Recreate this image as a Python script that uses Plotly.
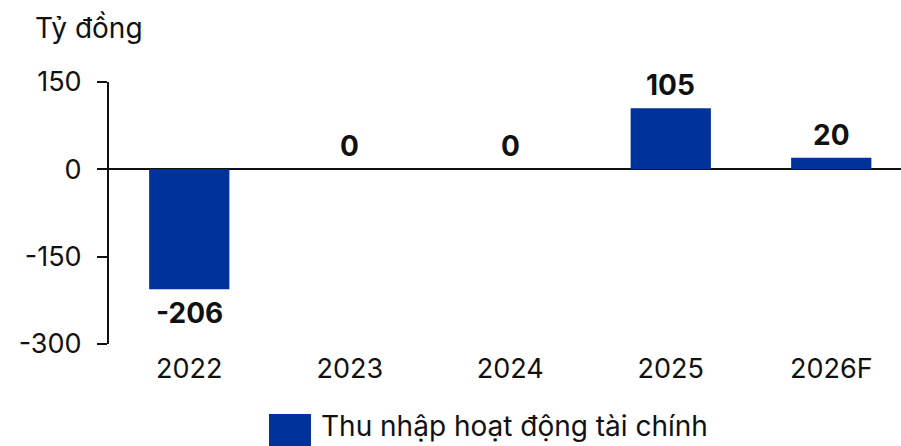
import plotly.graph_objects as go

categories = ["2022", "2023", "2024", "2025", "2026F"]
values = [-206, 0, 0, 105, 20]
label_texts = ["-206", "0", "0", "105", "20"]
y_ticks = [150, 0, -150, -300]
y_tick_labels = ["150", "0", "-150", "-300"]
series_name = "Thu nhập hoạt động tài chính"
unit_label = "Tỷ đồng"

BAR_COLOR = "#00339A"
FONT = "Inter"
TXT = "#111111"
W, H = 901, 446
L, R, T, B = 109, 0, 82, 102
PW, PH = W - L - R, H - T - B


def px_x(x):
    return (x - L) / PW


def px_y(y):
    return (H - B - y) / PH


fig = go.Figure()
fig.add_trace(go.Bar(
    x=list(range(len(categories))), y=values, marker_color=BAR_COLOR, width=0.5,
    marker_line_width=0, showlegend=False, name=series_name,
))

for i, (v, t) in enumerate(zip(values, label_texts)):
    fig.add_annotation(
        x=i, y=v, text=f"<b>{t}</b>", showarrow=False,
        yanchor="top" if v < 0 else "bottom",
        yshift=-5 if v < 0 else 4,
        font=dict(family=FONT, size=28, color=TXT),
    )

# Unit title
fig.add_annotation(
    xref="paper", yref="paper", x=px_x(33), y=px_y(28), text=unit_label,
    showarrow=False, xanchor="left", yanchor="middle",
    font=dict(family=FONT, size=28, color=TXT),
)

# Legend (manual, large swatch)
fig.add_shape(
    type="rect", xref="paper", yref="paper",
    x0=px_x(269), x1=px_x(311), y0=px_y(414), y1=px_y(447),
    fillcolor=BAR_COLOR, line_width=0, layer="above",
)
fig.add_annotation(
    xref="paper", yref="paper", x=px_x(319), y=px_y(426), text=series_name,
    showarrow=False, xanchor="left", yanchor="middle",
    font=dict(family=FONT, size=28, color=TXT),
)

fig.update_layout(
    width=W, height=H,
    margin=dict(l=L, r=R, t=T, b=B, pad=0),
    plot_bgcolor="white", paper_bgcolor="white",
    showlegend=False,
    font=dict(family=FONT, size=27, color=TXT),
)
fig.update_xaxes(
    range=[-0.5, -0.5 + PW / 160.5],
    tickvals=list(range(len(categories))), ticktext=categories,
    showline=False, showgrid=False, ticks="", zeroline=False,
    tickfont=dict(family=FONT, size=27, color=TXT),
    ticklabelstandoff=6,
)
fig.update_yaxes(
    range=[-300, 150], tickvals=y_ticks, ticktext=y_tick_labels,
    showgrid=False, showline=True, linecolor=TXT, linewidth=2,
    ticks="outside", ticklen=10, tickwidth=2, tickcolor=TXT,
    zeroline=True, zerolinecolor=TXT, zerolinewidth=2,
    tickfont=dict(family=FONT, size=27, color=TXT),
    ticklabelstandoff=10,
)

fig.write_html("out.html")
